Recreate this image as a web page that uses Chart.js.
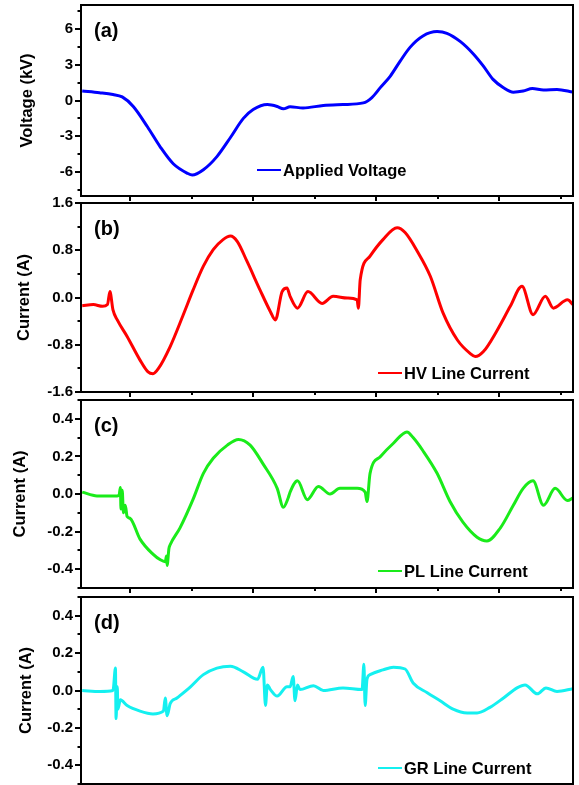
<!DOCTYPE html>
<html>
<head>
<meta charset="utf-8">
<script src="https://cdn.jsdelivr.net/npm/chart.js@4.4.1/dist/chart.umd.min.js"></script>
<style>
  body { margin: 0; background: #fff; width: 579px; height: 785px; overflow: hidden; position: relative; }
  canvas { position: absolute; left: 0; }
</style>
</head>
<body>
<canvas id="pa"></canvas>
<canvas id="pb"></canvas>
<canvas id="pc"></canvas>
<canvas id="pd"></canvas>
<script>
// shared time axis (no labels shown)
const xMajor = [0, 2, 4, 6]
const xMinor = [1, 3, 5, 7]

// (a) applied voltage, kV
const voltX = [-0.78, -0.5, -0.28, -0.13, 0.05, 0.28, 0.49, 0.7, 0.93, 1.01, 1.19, 1.41, 1.63, 1.84, 2.0, 2.23, 2.39, 2.49, 2.6, 2.81, 3.14, 3.46, 3.79, 3.93, 4.07, 4.23, 4.39, 4.55, 4.76, 4.99, 5.15, 5.37, 5.58, 5.74, 5.9, 6.07, 6.23, 6.39, 6.54, 6.72, 6.94, 7.2]
const voltY = [0.79, 0.65, 0.5, 0.3, -0.5, -2.2, -3.9, -5.3, -6.1, -6.25, -5.8, -4.7, -3.1, -1.5, -0.76, -0.34, -0.5, -0.7, -0.53, -0.62, -0.42, -0.34, -0.2, 0.25, 1.1, 2.05, 3.3, 4.45, 5.4, 5.77, 5.63, 4.93, 3.9, 2.9, 1.77, 1.07, 0.7, 0.79, 1.0, 0.87, 0.93, 0.7]

// (b) HV line current, A
const hvX = [-0.78, -0.6, -0.45, -0.37, -0.33, -0.28, -0.21, -0.05, 0.16, 0.29, 0.37, 0.46, 0.65, 0.86, 1.02, 1.19, 1.35, 1.51, 1.63, 1.74, 1.9, 2.11, 2.28, 2.36, 2.47, 2.55, 2.6, 2.72, 2.89, 3.12, 3.3, 3.53, 3.69, 3.71, 3.74, 3.9, 4.11, 4.34, 4.47, 4.67, 4.88, 5.09, 5.32, 5.53, 5.61, 5.74, 5.97, 6.18, 6.37, 6.55, 6.75, 6.88, 7.11, 7.2]
const hvY = [-0.14, -0.12, -0.15, -0.12, 0.1, -0.21, -0.38, -0.66, -1.06, -1.26, -1.29, -1.2, -0.83, -0.3, 0.12, 0.53, 0.81, 0.98, 1.04, 0.95, 0.61, 0.13, -0.24, -0.38, 0.1, 0.16, 0.02, -0.18, 0.1, -0.1, 0.02, -0.01, -0.04, -0.18, 0.3, 0.7, 0.98, 1.18, 1.1, 0.78, 0.36, -0.27, -0.72, -0.95, -1.0, -0.92, -0.55, -0.15, 0.19, -0.29, 0.02, -0.18, -0.04, -0.12]

// (c) PL line current, A
const plX = [-0.78, -0.54, -0.21, -0.18, -0.16, -0.15, -0.13, -0.11, -0.08, -0.05, 0, 0.16, 0.37, 0.49, 0.57, 0.59, 0.6, 0.63, 0.65, 0.81, 1.02, 1.19, 1.35, 1.58, 1.76, 1.95, 2.16, 2.39, 2.49, 2.57, 2.6, 2.72, 2.88, 3.06, 3.25, 3.41, 3.69, 3.82, 3.85, 3.9, 4.07, 4.28, 4.5, 4.6, 4.76, 4.99, 5.2, 5.41, 5.64, 5.8, 6.02, 6.23, 6.39, 6.55, 6.72, 6.91, 7.11, 7.2]
const plY = [0.01, -0.01, -0.01, -0.005, 0.035, -0.08, 0.02, -0.1, -0.06, -0.12, -0.13, -0.24, -0.32, -0.35, -0.36, -0.33, -0.38, -0.29, -0.27, -0.18, -0.03, 0.11, 0.19, 0.26, 0.29, 0.26, 0.16, 0.03, -0.07, -0.02, 0.01, 0.07, -0.03, 0.04, 0.0, 0.03, 0.03, 0.01, -0.04, 0.11, 0.2, 0.27, 0.33, 0.3, 0.23, 0.11, -0.04, -0.15, -0.23, -0.25, -0.18, -0.06, 0.03, 0.07, -0.06, 0.03, -0.035, -0.02]

// (d) GR line current, A
const grX = [-0.78, -0.49, -0.28, -0.24, -0.23, -0.21, -0.2, -0.16, -0.05, 0.16, 0.37, 0.54, 0.57, 0.6, 0.65, 0.76, 0.98, 1.19, 1.41, 1.63, 1.84, 2.07, 2.16, 2.2, 2.23, 2.28, 2.39, 2.55, 2.6, 2.65, 2.68, 2.72, 2.76, 2.98, 3.14, 3.46, 3.77, 3.8, 3.82, 3.85, 3.9, 4.11, 4.28, 4.47, 4.6, 4.83, 5.04, 5.25, 5.48, 5.64, 5.85, 6.07, 6.29, 6.42, 6.62, 6.76, 6.94, 7.2]
const grY = [0, -0.005, 0.0, 0.12, -0.15, 0.02, -0.1, -0.05, -0.08, -0.11, -0.125, -0.11, -0.04, -0.135, -0.07, -0.04, 0.02, 0.085, 0.12, 0.13, 0.1, 0.06, 0.125, -0.08, 0.03, 0.005, -0.03, 0.02, 0.02, 0.075, -0.055, 0.03, 0.005, 0.026, 0.0, 0.014, 0.005, 0.14, -0.08, 0.06, 0.085, 0.11, 0.125, 0.115, 0.04, -0.012, -0.055, -0.1, -0.12, -0.12, -0.09, -0.04, 0.014, 0.03, -0.018, 0.014, -0.005, 0.01]

// y tick labels and minor tick positions
const ticksA = [-6, -3, 0, 3, 6]
const minorA = [-7.5, -4.5, -1.5, 1.5, 4.5, 7.5]
const ticksB = [-1.6, -0.8, 0, 0.8, 1.6]
const minorB = [-1.2, -0.4, 0.4, 1.2]
const ticksC = [-0.4, -0.2, 0, 0.2, 0.4]
const minorC = [-0.5, -0.3, -0.1, 0.1, 0.3, 0.5]

const FONT = "'Liberation Sans', Arial, sans-serif"
const PAD = 12

const framePlugin = {
    id: 'frame',
    afterDraw(chart, args, o) {
        const {ctx, chartArea: a, scales} = chart
        ctx.save()
        ctx.strokeStyle = '#000'
        ctx.lineWidth = 2
        ctx.strokeRect(a.left, a.top, a.right - a.left, a.bottom - a.top)
        // minor y ticks
        ctx.beginPath()
        o.minor.forEach(v => {
            const y = Math.round(scales.y.getPixelForValue(v))
            ctx.moveTo(a.left - 3.5, y)
            ctx.lineTo(a.left, y)
        })
        // x ticks hanging under the frame
        xMajor.forEach(v => {
            const x = Math.round(scales.x.getPixelForValue(v))
            ctx.moveTo(x, a.bottom)
            ctx.lineTo(x, a.bottom + 5)
        })
        xMinor.forEach(v => {
            const x = Math.round(scales.x.getPixelForValue(v))
            ctx.moveTo(x, a.bottom)
            ctx.lineTo(x, a.bottom + 3)
        })
        ctx.stroke()
        // panel label
        ctx.fillStyle = '#000'
        ctx.font = 'bold 20px ' + FONT
        ctx.textBaseline = 'middle'
        ctx.textAlign = 'left'
        ctx.fillText(o.tag, a.left + 13, a.top + 26)
        // legend
        const ds = chart.data.datasets[0]
        const ly = a.bottom - o.legDy
        ctx.strokeStyle = ds.borderColor
        ctx.lineWidth = 2
        ctx.beginPath()
        ctx.moveTo(o.legX, ly)
        ctx.lineTo(o.legX + 24, ly)
        ctx.stroke()
        ctx.font = 'bold 16.5px ' + FONT
        ctx.fillText(ds.label, o.legX + 26, ly + 1)
        ctx.restore()
    }
}

function panel(id, top, bottom, cfg) {
    const cv = document.getElementById(id)
    cv.width = 579
    cv.height = bottom - top + 2 * PAD
    cv.style.top = (top - PAD) + 'px'
    new Chart(cv, {
        type: 'line',
        data: {
            datasets: [{
                label: cfg.label,
                data: cfg.xs.map((x, i) => ({x: x, y: cfg.ys[i]})),
                borderColor: cfg.color,
                borderWidth: 3,
                pointRadius: 0,
                fill: false,
                cubicInterpolationMode: 'monotone'
            }]
        },
        options: {
            responsive: false,
            animation: false,
            devicePixelRatio: 1,
            layout: { padding: { top: PAD, bottom: PAD, left: 0, right: 6 } },
            scales: {
                x: { type: 'linear', min: -0.8, max: 7.2, display: false },
                y: {
                    min: cfg.min,
                    max: cfg.max,
                    afterBuildTicks: s => { s.ticks = cfg.ticks.map(v => ({value: v})) },
                    afterFit: s => { s.width = 81 },
                    border: { display: false },
                    grid: { drawOnChartArea: false, drawTicks: true, tickLength: 6, color: '#000', lineWidth: 2 },
                    ticks: {
                        color: '#000',
                        padding: 2,
                        font: { family: FONT, size: 15, weight: 'bold' },
                        callback: v => cfg.fmt(v)
                    },
                    title: {
                        display: true,
                        text: cfg.title,
                        color: '#000',
                        font: { family: FONT, size: 16.5, weight: 'bold' },
                        padding: { top: cfg.titlePad, bottom: 0 }
                    }
                }
            },
            plugins: {
                legend: { display: false },
                tooltip: { enabled: false },
                frame: { minor: cfg.minor, tag: cfg.tag, legX: cfg.legX, legDy: cfg.legDy }
            }
        },
        plugins: [framePlugin]
    })
}

panel('pa', 5, 196, {
    xs: voltX, ys: voltY, label: 'Applied Voltage', color: '#0000ff',
    min: -8, max: 8, ticks: ticksA, minor: minorA, fmt: v => String(v),
    title: 'Voltage (kV)', titlePad: 18, tag: '(a)', legX: 257, legDy: 26
})
panel('pb', 203, 392, {
    xs: hvX, ys: hvY, label: 'HV Line Current', color: '#ff0000',
    min: -1.6, max: 1.6, ticks: ticksB, minor: minorB, fmt: v => v.toFixed(1),
    title: 'Current (A)', titlePad: 15, tag: '(b)', legX: 378, legDy: 19
})
panel('pc', 400, 588, {
    xs: plX, ys: plY, label: 'PL Line Current', color: '#1aeb1a',
    min: -0.5, max: 0.5, ticks: ticksC, minor: minorC, fmt: v => v.toFixed(1),
    title: 'Current (A)', titlePad: 11, tag: '(c)', legX: 378, legDy: 17
})
panel('pd', 597, 784, {
    xs: grX, ys: grY, label: 'GR Line Current', color: '#14f0f0',
    min: -0.5, max: 0.5, ticks: ticksC, minor: minorC, fmt: v => v.toFixed(1),
    title: 'Current (A)', titlePad: 17, tag: '(d)', legX: 378, legDy: 16
})
</script>
</body>
</html>
